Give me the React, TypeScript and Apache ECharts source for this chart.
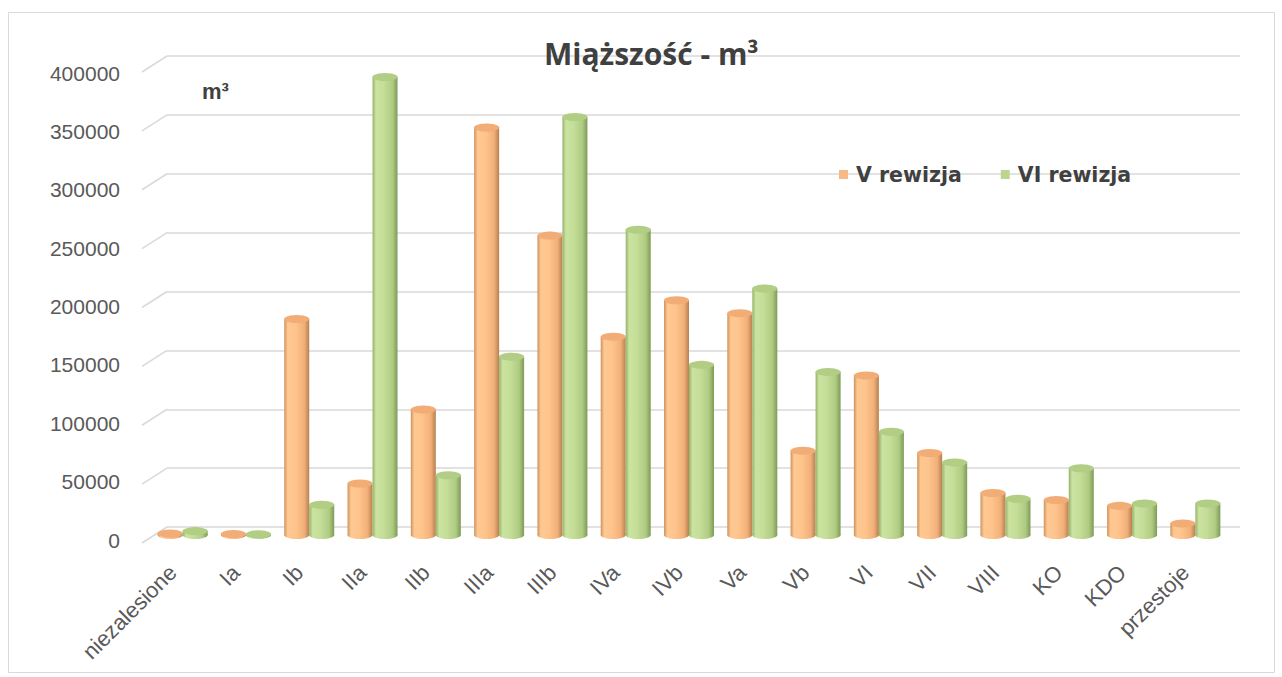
import React, { useEffect, useRef } from "react";
import * as echarts from "echarts";

const categories = [
  "niezalesione", "Ia", "Ib", "IIa", "IIb", "IIIa", "IIIb", "IVa", "IVb",
  "Va", "Vb", "VI", "VII", "VIII", "KO", "KDO", "przestoje",
];
const seriesVName = "V rewizja";
const seriesVIName = "VI rewizja";
const valuesV = [1500, 1000, 184000, 44000, 107000, 347000, 255000, 169000, 200000, 189000, 72000, 136000, 70000, 36000, 30000, 25000, 10000];
const valuesVI = [3500, 800, 26000, 390000, 51000, 152000, 356000, 260000, 145000, 210000, 139000, 88000, 62000, 31000, 57000, 27000, 27000];
const tickValues = [0, 50000, 100000, 150000, 200000, 250000, 300000, 350000, 400000];

const orangeGrad = () =>
  new echarts.graphic.LinearGradient(0, 0, 1, 0, [
    { offset: 0, color: "#D0925C" },
    { offset: 0.14, color: "#FFC892" },
    { offset: 0.45, color: "#FFC48D" },
    { offset: 0.8, color: "#F2B079" },
    { offset: 1, color: "#B88050" },
  ]);
const greenGrad = () =>
  new echarts.graphic.LinearGradient(0, 0, 1, 0, [
    { offset: 0, color: "#95B36A" },
    { offset: 0.14, color: "#CBE3A0" },
    { offset: 0.45, color: "#C4DD97" },
    { offset: 0.8, color: "#AFCB82" },
    { offset: 1, color: "#7D9A57" },
  ]);

export default function App() {
  const ref = useRef<HTMLDivElement>(null);
  useEffect(() => {
    if (!ref.current) return;
    const chart = echarts.init(ref.current, null, { renderer: "svg" });
    const barW = 25;
    const option: any = {
      animation: false,
      backgroundColor: "#ffffff",
      title: {
        text: "Miąższość - m³",
        left: 539,
        top: 33,
        textStyle: { fontFamily: "Open Sans", fontWeight: "bold", fontSize: 30, color: "#404040" },
      },
      legend: {
        data: [
          { name: seriesVName, itemStyle: { color: "#F7B985" } },
          { name: seriesVIName, itemStyle: { color: "#BCD68F" } },
        ],
        left: 834,
        top: 159,
        icon: "path://M0,0H10V10H0Z",
        itemWidth: 15,
        itemHeight: 9,
        itemGap: 39,
        textStyle: { fontFamily: "DejaVu Sans", fontWeight: "bold", fontSize: 20.5, color: "#404040" },
      },
      graphic: [
        {
          type: "rect",
          shape: { x: 8.5, y: 12.5, width: 1266, height: 660 },
          style: { fill: "none", stroke: "#d9d9d9", lineWidth: 1 },
          silent: true,
        },
        {
          type: "text",
          x: 202,
          y: 80,
          style: { text: "m³", font: "bold 22px 'Liberation Sans'", fill: "#404040" },
        },
      ],
      grid: [
        { left: 151, right: 55, top: 65, bottom: 142 },
        { left: 167, right: 42, top: 56, bottom: 150 },
        { left: 151, right: 55, top: 73, bottom: 137 },
      ],
      xAxis: [
        {
          type: "category",
          gridIndex: 0,
          data: categories,
          axisLine: { show: false },
          axisTick: { show: false },
          axisLabel: {
            rotate: 45,
            align: "right",
            verticalAlign: "middle",
            margin: 24,
            padding: [0, 14, 0, 0],
            interval: 0,
            fontFamily: "Liberation Sans",
            fontSize: 22,
            color: "#595959",
          },
        },
        { type: "category", gridIndex: 0, data: categories, show: false },
        { type: "value", gridIndex: 1, min: 0, max: 1, show: false },
        { type: "category", gridIndex: 2, data: categories, show: false },
      ],
      yAxis: [
        { type: "value", gridIndex: 0, min: 0, max: 400000, interval: 50000, show: false },
        {
          type: "value",
          gridIndex: 1,
          min: 0,
          max: 400000,
          interval: 50000,
          axisLine: { show: false },
          axisTick: { show: false },
          axisLabel: { show: false },
          splitLine: { show: true, lineStyle: { color: "#d9d9d9", width: 1.5 } },
        },
        {
          type: "value",
          gridIndex: 2,
          min: 0,
          max: 400000,
          interval: 50000,
          axisLine: { show: false },
          axisTick: { show: false },
          splitLine: { show: false },
          axisLabel: {
            margin: 31,
            formatter: (v: number) => String(v),
            fontFamily: "Liberation Sans",
            fontSize: 21,
            color: "#595959",
          },
        },
      ],
      series: [
        {
          type: "custom",
          xAxisIndex: 2,
          yAxisIndex: 1,
          silent: true,
          data: tickValues.map((v) => [0, v]),
          renderItem: (params: any, api: any) => {
            const p = api.coord([0, api.value(1)]);
            return {
              type: "line",
              shape: { x1: p[0] - 25, y1: p[1] + 16, x2: p[0], y2: p[1] },
              style: { stroke: "#d9d9d9", lineWidth: 1.5 },
            };
          },
          z: 1,
        },
        {
          name: seriesVName,
          type: "bar",
          xAxisIndex: 0,
          yAxisIndex: 0,
          data: valuesV,
          barWidth: barW,
          barGap: "0%",
          itemStyle: { color: orangeGrad() },
          z: 3,
        },
        {
          name: seriesVIName,
          type: "bar",
          xAxisIndex: 0,
          yAxisIndex: 0,
          data: valuesVI,
          barWidth: barW,
          barGap: "0%",
          itemStyle: { color: greenGrad() },
          z: 3,
        },
        {
          name: seriesVName,
          type: "pictorialBar",
          xAxisIndex: 0,
          yAxisIndex: 0,
          data: valuesV,
          barWidth: barW,
          barGap: "0%",
          symbol: "circle",
          symbolSize: [barW, 8],
          symbolPosition: "end",
          symbolOffset: [0, "-50%"],
          itemStyle: { color: "#F2AD76", borderColor: "#D2935E", borderWidth: 0.8 },
          z: 5,
        },
        {
          name: seriesVIName,
          type: "pictorialBar",
          xAxisIndex: 0,
          yAxisIndex: 0,
          data: valuesVI,
          barWidth: barW,
          barGap: "0%",
          symbol: "circle",
          symbolSize: [barW, 8],
          symbolPosition: "end",
          symbolOffset: [0, "-50%"],
          itemStyle: { color: "#B2CE85", borderColor: "#8DAA65", borderWidth: 0.8 },
          z: 5,
        },
        {
          name: seriesVName,
          type: "pictorialBar",
          xAxisIndex: 1,
          yAxisIndex: 0,
          data: valuesV,
          barWidth: barW,
          barGap: "0%",
          symbol: "circle",
          symbolSize: [barW, 8],
          symbolPosition: "start",
          symbolOffset: [0, "50%"],
          itemStyle: { color: orangeGrad() },
          z: 2,
        },
        {
          name: seriesVIName,
          type: "pictorialBar",
          xAxisIndex: 1,
          yAxisIndex: 0,
          data: valuesVI,
          barWidth: barW,
          barGap: "0%",
          symbol: "circle",
          symbolSize: [barW, 8],
          symbolPosition: "start",
          symbolOffset: [0, "50%"],
          itemStyle: { color: greenGrad() },
          z: 2,
        },
      ],
    };
    chart.setOption(option);
    return () => chart.dispose();
  }, []);
  return (
    <div
      ref={ref}
      style={{ position: "absolute", left: 0, top: 0, width: 1282, height: 677 }}
    />
  );
}
